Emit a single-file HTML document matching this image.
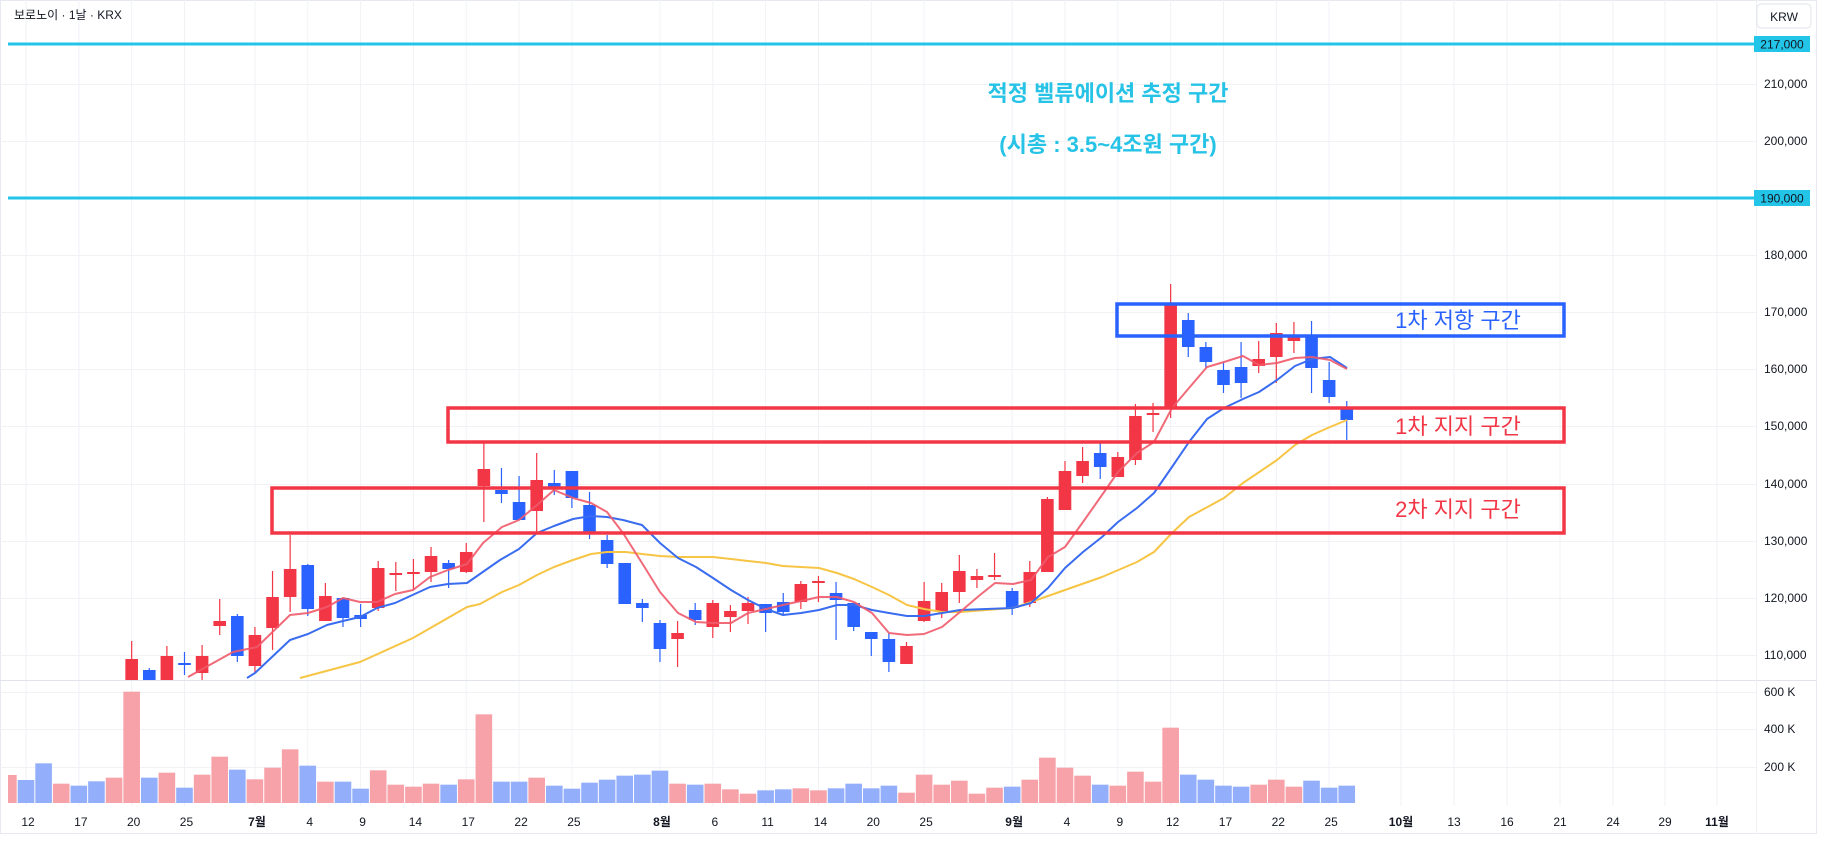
<!DOCTYPE html>
<html><head><meta charset="utf-8"><style>
html,body{margin:0;padding:0;background:#fff;}
svg{display:block;font-family:"Liberation Sans","Noto Sans CJK KR",sans-serif;}
</style></head><body>
<svg id="s" width="1827" height="841" viewBox="0 0 1827 841" xmlns="http://www.w3.org/2000/svg">
<rect x="0" y="0" width="1827" height="841" fill="#fff"/>
<rect x="0.5" y="0.5" width="1816" height="833" fill="none" stroke="#e6e9ef"/>
<g id="grid" stroke="#f0f2f6" stroke-width="1"></g>
<line x1="0" y1="680.5" x2="1817" y2="680.5" stroke="#e0e3eb"/>
<line x1="1756.5" y1="0" x2="1756.5" y2="834" stroke="#eef0f4"/>
<g id="vol"></g>
<g id="candles"></g>
<g id="ma" fill="none" stroke-width="2" stroke-linejoin="round"></g>
<line x1="8" y1="44" x2="1754" y2="44" stroke="#22C4E8" stroke-width="3"/>
<line x1="8" y1="198" x2="1754" y2="198" stroke="#22C4E8" stroke-width="3"/>
<rect x="1754" y="36" width="56" height="16" fill="#22C4E8"/>
<rect x="1754" y="190" width="56" height="16" fill="#22C4E8"/>
<text x="1782" y="48.5" font-size="12" text-anchor="middle" fill="#131722">217,000</text>
<text x="1782" y="202.5" font-size="12" text-anchor="middle" fill="#131722">190,000</text>
<rect x="1117" y="304" width="447" height="32" fill="none" stroke="#2962FF" stroke-width="3.5"/>
<rect x="448" y="408" width="1116" height="34" fill="none" stroke="#F23645" stroke-width="3.5"/>
<rect x="272" y="488" width="1292" height="45" fill="none" stroke="#F23645" stroke-width="3.5"/>
<text x="1458" y="328" font-size="22" text-anchor="middle" fill="#2962FF">1차 저항 구간</text>
<text x="1458" y="434" font-size="22" text-anchor="middle" fill="#F23645">1차 지지 구간</text>
<text x="1458" y="517" font-size="22" text-anchor="middle" fill="#F23645">2차 지지 구간</text>
<text x="1108" y="101" font-size="22" font-weight="bold" text-anchor="middle" fill="#26C3E6">적정 벨류에이션 추정 구간</text>
<text x="1108" y="152" font-size="22" font-weight="bold" text-anchor="middle" fill="#26C3E6">(시총 : 3.5~4조원 구간)</text>
<text x="14" y="19" font-size="12" fill="#131722">보로노이 · 1날 · KRX</text>
<rect x="1757" y="4" width="54" height="24" rx="4" fill="#fff" stroke="#e0e3eb"/>
<text x="1784" y="21" font-size="12" text-anchor="middle" fill="#131722">KRW</text>
<g id="axis" font-size="12" fill="#131722"></g>
</svg>
<script>
(function(){
var NS="http://www.w3.org/2000/svg";
function el(p,t,a,txt){var e=document.createElementNS(NS,t);for(var k in a)e.setAttribute(k,a[k]);if(txt!==undefined)e.textContent=txt;document.getElementById(p).appendChild(e);return e;}
function X(i){return 26+17.61*i;}
var ticks=[[210,84],[200,141],[180,255],[170,312],[160,369],[150,426],[140,484],[130,541],[120,598],[110,655]];
ticks.forEach(function(t){el("grid","line",{x1:0,y1:t[1]+.5,x2:1756,y2:t[1]+.5});el("axis","text",{x:1764,y:t[1]+4},t[0]+",000");});
el("grid","line",{x1:0,y1:692.5,x2:1756,y2:692.5});el("grid","line",{x1:0,y1:729.5,x2:1756,y2:729.5});el("grid","line",{x1:0,y1:767.5,x2:1756,y2:767.5});
[["600 K",696],["400 K",733],["200 K",771]].forEach(function(v){el("axis","text",{x:1764,y:v[1]},v[0]);});
var tl=[["12",0],["17",3],["20",6],["25",9],["7월",13,1],["4",16],["9",19],["14",22],["17",25],["22",28],["25",31],["8월",36,1],["6",39],["11",42],["14",45],["20",48],["25",51],["9월",56,1],["4",59],["9",62],["12",65],["17",68],["22",71],["25",74]];
tl.forEach(function(t){var xx=X(t[1]);el("grid","line",{x1:xx,y1:0,x2:xx,y2:806});var a={x:xx+2,y:826,"text-anchor":"middle"};if(t[2])a["font-weight"]="bold";el("axis","text",a,t[0]);});
[["10월",1401,1],["13",1454],["16",1507],["21",1560],["24",1613],["29",1665],["11월",1717,1]].forEach(function(t){el("grid","line",{x1:t[1],y1:0,x2:t[1],y2:806});var a={x:t[1],y:826,"text-anchor":"middle"};if(t[2])a["font-weight"]="bold";el("axis","text",a,t[0]);});
var vz=[285,300,250,311,317,304,293,35,293,278,323,284,230,269,298,263,208,257,305,305,326,271,314,320,311,314,298,103,305,305,293,317,326,308,299,287,284,272,311,314,311,328,341,331,328,325,331,325,311,325,317,338,284,314,302,341,323,320,299,233,263,287,314,317,275,305,143,284,299,317,320,314,299,320,302,323,317];
var vc="rbbrbbrrbrbrrbrrrbrbbrrrrbrrbbrbbbbbbbrbrrrbbrrbbbbrrrrrrbrrrrbrrrrbbbbrrrbbb";
for(var k=0;k<vz.length;k++){var ii=k-1;var vt=680+vz[k]/3;var x0=X(ii)-8.3,w=16.6;if(x0<8){w-=8-x0;x0=8;}el("vol","rect",{x:x0,y:vt,width:w,height:803-vt,fill:vc.charAt(k)=="r"?"#F7A1A9":"#93AEFB"});}
var cd=[[6,'r',659,680,641,680],[7,'b',670,680,668,680],[8,'r',656,680,646,680],[9,'b',663,665,652,675],[10,'r',656,673,645,680],[11,'r',621,626,599,635],[12,'b',616,656,614,662],[13,'r',635,666,627,672],[14,'r',597,628,571,650],[15,'r',569,597,535,612],[16,'b',565,609,564,616],[17,'r',596,621,583,621],[18,'b',598,618,598,627],[19,'b',615,619,604,627],[20,'r',568,608,561,611],[21,'r',573,575,562,591],[22,'r',572,574,559,590],[23,'r',556,572,547,582],[24,'b',563,569,560,588],[25,'r',552,572,543,573],[26,'r',469,486,443,522],[27,'b',490,494,468,503],[28,'b',502,520,476,520],[29,'r',480,511,453,532],[30,'b',483,488,470,495],[31,'b',471,498,471,508],[32,'b',505,532,492,539],[33,'b',540,564,535,568],[34,'b',563,604,563,604],[35,'b',603,608,599,622],[36,'b',623,649,620,662],[37,'r',633,639,621,667],[38,'b',610,620,603,625],[39,'r',603,627,600,638],[40,'r',611,617,605,632],[41,'r',603,611,597,624],[42,'b',604,613,604,632],[43,'b',602,612,593,615],[44,'r',584,602,581,609],[45,'r',581,583,576,602],[46,'b',593,600,582,640],[47,'b',603,627,603,631],[48,'b',632,639,632,656],[49,'b',639,662,633,672],[50,'r',646,664,642,664],[51,'r',601,621,582,622],[52,'r',592,612,583,618],[53,'r',571,592,555,603],[54,'r',576,580,569,588],[55,'r',575,577,553,580],[56,'b',591,608,588,615],[57,'r',572,603,561,607],[58,'r',499,572,497,572],[59,'r',471,510,461,510],[60,'r',461,476,447,483],[61,'b',453,467,443,479],[62,'r',457,477,452,477],[63,'r',416,460,404,465],[64,'r',413,415,403,432],[65,'r',304,408,284,418],[66,'b',320,347,313,357],[67,'b',347,362,342,368],[68,'b',370,385,362,393],[69,'b',367,383,342,398],[70,'r',359,366,341,373],[71,'r',333,357,323,383],[72,'r',337,341,322,353],[73,'b',336,368,321,393],[74,'b',380,397,362,403],[75,'b',407,420,401,440]];
cd.forEach(function(c){var xx=X(c[0]);var col=c[1]=='r'?'#F23645':'#2962FF';var wb=Math.min(c[5],680),bb=Math.min(c[3],680);el("candles","rect",{x:xx-0.6,y:c[4],width:1.2,height:wb-c[4],fill:col});var h=Math.max(bb-c[2],2);el("candles","rect",{x:xx-6.3,y:c[2],width:12.6,height:h,fill:col});});
el("ma","polyline",{stroke:"#F7C545",points:"300,678 360,662 413,638 467,607 480,604 502,592 519,585 537,575 554,567 573,560 591,554 607,552 626,552 642,554 660,556 678,557 713,557 731,559 748,561 766,563 783,566 801,567 819,568 837,573 854,579 872,587 889,595 907,605 924,609 942,612 960,612 1013,608 1031,602 1065,590 1102,577 1137,562 1154,552 1172,533 1189,517 1224,498 1243,483 1277,460 1295,445 1312,435 1330,427 1347,420"});
el("ma","polyline",{stroke:"#3A6CF0",points:"247,678 255,673 290,640 308,634 327,625 343,621 360,617 377,608 395,603 430,587 448,584 467,583 500,560 519,549 537,533 554,526 573,519 591,516 607,517 623,520 642,525 660,543 678,558 696,567 713,578 731,590 748,600 766,609 783,615 801,613 819,610 837,605 854,605 872,610 889,613 907,616 924,616 942,613 960,610 1013,608 1031,603 1048,588 1065,568 1083,552 1102,537 1118,522 1137,508 1154,493 1172,467 1189,442 1207,419 1224,408 1243,399 1259,392 1277,380 1295,366 1312,359 1330,357 1347,368"});
el("ma","polyline",{stroke:"#EF5A6A","stroke-opacity":"0.9",points:"188,677 233,652 257,647 290,615 308,613 327,607 343,598 360,602 377,602 395,594 413,590 430,577 448,570 467,564 483,543 502,527 519,520 537,505 554,490 573,498 591,503 607,512 623,533 642,563 660,592 678,613 696,622 713,623 731,623 748,613 766,609 783,605 801,601 819,597 837,597 854,602 872,613 889,633 907,635 924,634 942,627 960,612 980,595 995,583 1013,584 1031,580 1048,557 1065,547 1083,522 1102,495 1118,472 1137,453 1154,442 1172,408 1189,388 1207,367 1224,362 1243,356 1259,365 1277,363 1295,358 1312,357 1330,360 1347,369"});
})();
</script>
</body></html>
